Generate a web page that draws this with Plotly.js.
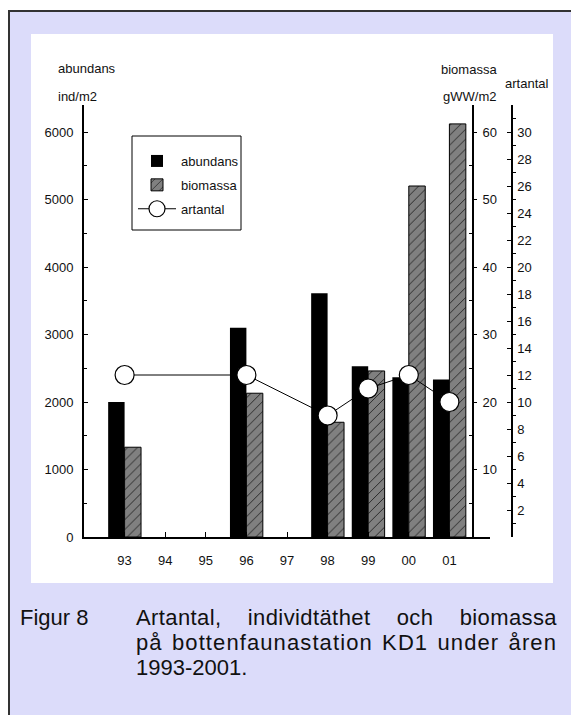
<!DOCTYPE html>
<html>
<head>
<meta charset="utf-8">
<script src="https://cdn.plot.ly/plotly-3.0.1.min.js"></script>
<style>
html,body{margin:0;padding:0;background:#fff;width:571px;height:715px;overflow:hidden;}
#frame{position:absolute;left:8px;top:10px;width:620px;height:760px;background:#DCDCFA;border-left:2px solid #333;border-top:2px solid #333;}
#chart{position:absolute;left:31px;top:34px;width:522px;height:549px;background:#fff;}
.cap{position:absolute;font-family:'Liberation Sans',Arial,sans-serif;font-size:22px;line-height:25px;color:#111;}
#fig{left:20px;top:605px;}
#captext{left:136px;top:605px;width:421px;}
#captext div{text-align:justify;text-align-last:justify;white-space:nowrap;}
#captext div.l1{letter-spacing:0.4px;}
#captext div.l2{letter-spacing:1.1px;word-spacing:-2px;}
#captext div.last{text-align:left;text-align-last:left;}
</style>
</head>
<body>
<div id="frame"></div>
<div id="chart"></div>
<div class="cap" id="fig">Figur 8</div>
<div class="cap" id="captext">
<div class="l1">Artantal, individtäthet och biomassa</div>
<div class="l2">på bottenfaunastation KD1 under åren</div>
<div class="last">1993-2001.</div>
</div>
<script>
// ---- data ----
const categories = ['93','94','95','96','97','98','99','00','01'];
const abundans   = [2000, null, null, 3100, null, 3610, 2530, 2365, 2335];
const biomassa   = [13.3, null, null, 21.3, null, 17.0, 24.6, 52.0, 61.2];
const artantal   = [12, null, null, 12, null, 9, 11, 12, 10];
const abundansTicks = [0, 1000, 2000, 3000, 4000, 5000, 6000];
const biomassaTicks = [10, 20, 30, 40, 50, 60];
const artantalTicks = [2, 4, 6, 8, 10, 12, 14, 16, 18, 20, 22, 24, 26, 28, 30];

// ---- geometry helpers (page pixel -> paper fraction) ----
const DIVX = 31, DIVY = 34, ML = 53, MR = 30, MT = 71, MB = 46, W = 522, H = 549;
const PW = W - ML - MR, PH = H - MT - MB;
const px = X => (X - DIVX - ML) / PW;
const py = Y => (H - MB - (Y - DIVY)) / PH;

const FONT = "'Liberation Sans',Arial,sans-serif";
const tf = {family: FONT, size: 13, color: '#111'};

const traces = [
  {type: 'bar', name: 'abundans', legendgroup: 'a', x: categories, y: abundans, yaxis: 'y',
   width: 0.405, offset: -0.405, marker: {color: '#000', line: {width: 0}}},
  {type: 'bar', name: 'biomassa', legendgroup: 'b', x: categories, y: biomassa, yaxis: 'y2',
   width: 0.405, offset: 0,
   marker: {color: '#808080', line: {color: '#000', width: 1},
            pattern: {shape: '/', fgcolor: '#1a1a1a', bgcolor: '#808080', size: 7, solidity: 0.12}}},
  {type: 'scatter', name: 'artantal', legendgroup: 'c', x: categories, y: artantal, yaxis: 'y3',
   mode: 'lines+markers', connectgaps: true, line: {color: '#000', width: 1},
   marker: {symbol: 'circle', size: 19, color: '#fff', line: {color: '#000', width: 1.2}}}
];

const axisBase = {showgrid: false, zeroline: false, showline: true, linecolor: '#000', linewidth: 2,
                  tickcolor: '#000', tickwidth: 1, tickfont: tf, fixedrange: true};

const layout = {
  width: W, height: H,
  margin: {l: ML, r: MR, t: MT, b: MB, pad: 0},
  paper_bgcolor: '#fff', plot_bgcolor: 'rgba(0,0,0,0)',
  barmode: 'overlay', showlegend: true,
  xaxis: Object.assign({}, axisBase, {type: 'category', range: [-1, 9], domain: [0, 406 / PW],
    ticks: 'inside', ticklen: 5, ticklabelstandoff: 10}),
  yaxis: Object.assign({}, axisBase, {range: [0, 6400], tickmode: 'array', tickvals: abundansTicks,
    ticks: 'inside', ticklen: 4, ticklabelstandoff: 6,
    minor: {tickmode: 'linear', tick0: 500, dtick: 1000, ticks: 'inside', ticklen: 3, tickcolor: '#000'}}),
  yaxis2: Object.assign({}, axisBase, {overlaying: 'y', side: 'right', anchor: 'free', position: px(473),
    range: [0, 64], tickmode: 'array', tickvals: biomassaTicks, ticks: 'outside', ticklen: 3,
    ticklabelstandoff: 3,
    minor: {tickmode: 'linear', tick0: 5, dtick: 10, ticks: 'inside', ticklen: 3, tickcolor: '#000'}}),
  yaxis3: Object.assign({}, axisBase, {overlaying: 'y', side: 'right', anchor: 'free', position: px(511.7),
    range: [0, 32], tickmode: 'array', tickvals: artantalTicks, ticks: 'inside', ticklen: 4,
    ticklabelstandoff: 2,
    minor: {tickmode: 'linear', tick0: 1, dtick: 2, ticks: 'outside', ticklen: 3, tickcolor: '#000'}}),
  legend: {x: px(133), y: py(146), xanchor: 'left', yanchor: 'top', bgcolor: 'rgba(0,0,0,0)',
    borderwidth: 0, font: tf, tracegroupgap: 4, itemwidth: 38, traceorder: 'grouped'},
  shapes: [
    {type: 'rect', xref: 'paper', yref: 'paper', x0: px(132), x1: px(241), y0: py(136), y1: py(230),
     line: {color: '#000', width: 1}, fillcolor: '#fff', layer: 'above'}
  ],
  annotations: [
    {text: 'abundans', x: px(56), y: py(68), xref: 'paper', yref: 'paper', xanchor: 'left', yanchor: 'middle', showarrow: false, font: tf},
    {text: 'ind/m2', x: px(56), y: py(97), xref: 'paper', yref: 'paper', xanchor: 'left', yanchor: 'middle', showarrow: false, font: tf},
    {text: 'biomassa', x: px(439), y: py(70), xref: 'paper', yref: 'paper', xanchor: 'left', yanchor: 'middle', showarrow: false, font: tf},
    {text: 'gWW/m2', x: px(441), y: py(97), xref: 'paper', yref: 'paper', xanchor: 'left', yanchor: 'middle', showarrow: false, font: tf},
    {text: 'artantal', x: px(503), y: py(83), xref: 'paper', yref: 'paper', xanchor: 'left', yanchor: 'middle', showarrow: false, font: tf}
  ]
};

Plotly.newPlot('chart', traces, layout, {displayModeBar: false, staticPlot: true});
</script>
</body>
</html>
